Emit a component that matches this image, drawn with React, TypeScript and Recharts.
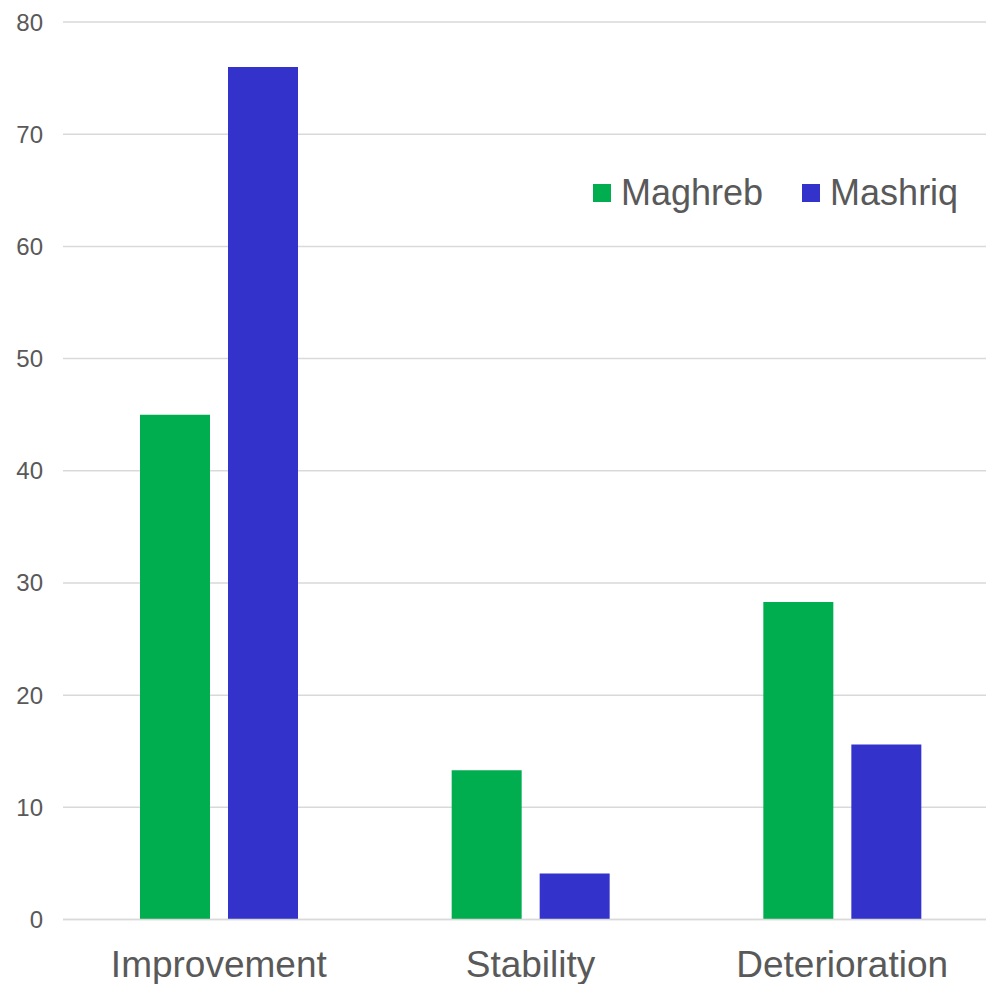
import React from "react";
import { BarChart, Bar, XAxis, YAxis, CartesianGrid, Legend } from "recharts";

const categories = ["Improvement", "Stability", "Deterioration"];
const maghreb = [45, 13.3, 28.3];
const mashriq = [76, 4.1, 15.6];
const yTicks = [0, 10, 20, 30, 40, 50, 60, 70, 80];
const seriesNames = ["Maghreb", "Mashriq"];
const seriesColors = ["#00AE4F", "#3333CC"];

const data = categories.map((c, i) => ({
  name: c,
  Maghreb: maghreb[i],
  Mashriq: mashriq[i],
}));

const FONT = "'Liberation Sans', Arial, sans-serif";

const LegendContent = (props: any) => {
  const payload = props.payload || [];
  return (
    <div style={{ height: 0, overflow: "visible" }}>
      <div style={{ display: "flex", alignItems: "center", fontFamily: FONT }}>
        {payload.map((p: any, i: number) => (
          <div
            key={p.value}
            style={{ display: "flex", alignItems: "center", marginLeft: i === 0 ? 0 : 39 }}
          >
            <div style={{ width: 18, height: 18, background: p.color, marginRight: 10 }} />
            <span style={{ fontSize: 36, color: "#595959", lineHeight: "40px" }}>{p.value}</span>
          </div>
        ))}
      </div>
    </div>
  );
};

export default function App() {
  return (
    <div
      style={{
        position: "absolute",
        left: 0,
        top: 0,
        width: 986,
        height: 984,
        overflow: "hidden",
        background: "#fff",
      }}
    >
      <BarChart
        width={998}
        height={984}
        data={data}
        margin={{ top: 22, right: 0, bottom: 0, left: 0 }}
        barSize={70}
        barGap={18}
      >
        <CartesianGrid vertical={false} stroke="#d9d9d9" strokeWidth={1.5} />
        <XAxis
          dataKey="name"
          height={64.5}
          tickLine={false}
          tickSize={0}
          tickMargin={31}
          axisLine={{ stroke: "#d9d9d9", strokeWidth: 1.5 }}
          tick={{ fill: "#595959", fontSize: 37, fontFamily: FONT }}
        />
        <YAxis
          width={63}
          domain={[0, 80]}
          ticks={yTicks}
          interval={0}
          tickLine={false}
          axisLine={false}
          tickSize={0}
          tickMargin={20}
          tick={{ fill: "#595959", fontSize: 24, fontFamily: FONT }}
        />
        <Legend
          verticalAlign="top"
          align="left"
          content={<LegendContent />}
          wrapperStyle={{ position: "absolute", left: 593, top: 173, width: 400, height: 0 }}
        />
        <Bar
          dataKey={seriesNames[0]}
          fill={seriesColors[0]}
          isAnimationActive={false}
        />
        <Bar
          dataKey={seriesNames[1]}
          fill={seriesColors[1]}
          isAnimationActive={false}
        />
      </BarChart>
    </div>
  );
}
